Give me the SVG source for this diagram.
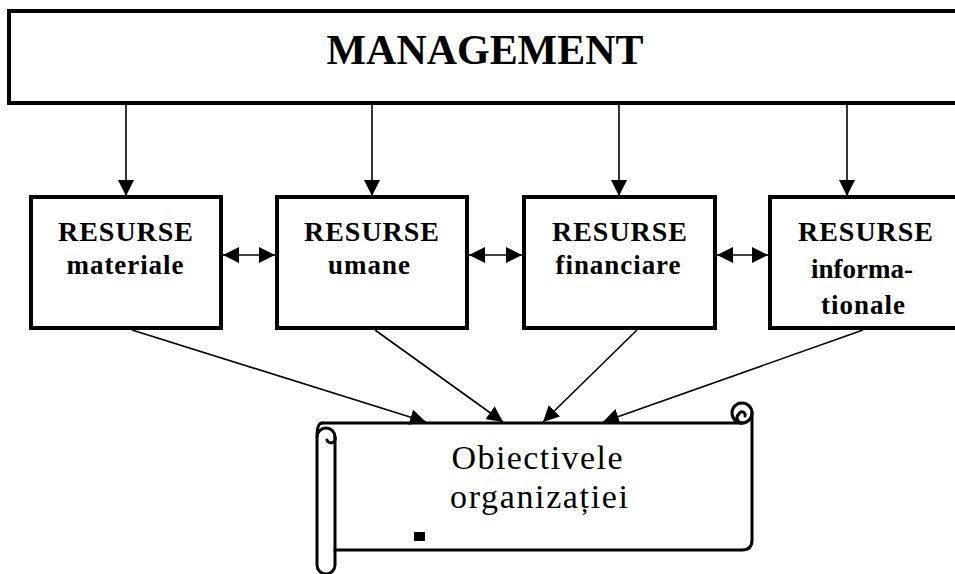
<svg xmlns="http://www.w3.org/2000/svg" width="955" height="574" viewBox="0 0 955 574">
<style>
.box{fill:#fff;stroke:#000;stroke-width:4}
.ln{stroke:#000;stroke-width:1.6;fill:none}
.t1{font-family:"Liberation Serif",serif;font-weight:bold;font-size:28px;text-anchor:middle;letter-spacing:1px}
.t2{font-family:"Liberation Serif",serif;font-weight:bold;font-size:27px;text-anchor:middle}
.sc{fill:none;stroke:#000;stroke-width:3;stroke-linecap:round;stroke-linejoin:round}
.t3{font-family:"Liberation Serif",serif;font-size:34px;text-anchor:middle}
</style>
<defs>
<marker id="ah" markerUnits="userSpaceOnUse" markerWidth="18" markerHeight="16" refX="16" refY="8" orient="auto-start-reverse">
<path d="M0,0 L16,8 L0,16 Z" fill="#000"/>
</marker>
</defs>
<g id="management">
<rect class="box" x="9" y="11" width="960" height="92"/>
<text x="485" y="64" font-family="Liberation Serif,serif" font-weight="bold" font-size="43" text-anchor="middle" textLength="317" lengthAdjust="spacingAndGlyphs">MANAGEMENT</text>
</g>
<g id="materiale">
<rect class="box" x="31" y="197" width="190" height="131"/>
<text class="t1" x="126" y="241" textLength="136">RESURSE</text>
<text class="t2" x="125" y="274" textLength="117">materiale</text>
</g>
<g id="umane">
<rect class="box" x="277" y="197" width="190" height="131"/>
<text class="t1" x="372" y="241" textLength="136">RESURSE</text>
<text class="t2" x="369" y="274" textLength="82">umane</text>
</g>
<g id="financiare">
<rect class="box" x="524" y="197" width="191" height="131"/>
<text class="t1" x="620" y="241" textLength="136">RESURSE</text>
<text class="t2" x="618" y="274" textLength="125">financiare</text>
</g>
<g id="informationale">
<rect class="box" x="770" y="197" width="200" height="131"/>
<text class="t1" x="866" y="241" textLength="136">RESURSE</text>
<text class="t2" x="862" y="278" textLength="102">informa-</text>
<text class="t2" x="863" y="314" textLength="84">tionale</text>
</g>
<g id="obiective">
<path class="sc" d="M322,423 L742,423"/>
<circle class="sc" cx="742" cy="413" r="10"/>
<path class="sc" d="M742,423 A5,5 0 0 1 739,414 A3,3 0 0 1 745,416"/>
<path class="sc" d="M752,413 L752,540 Q752,550 742,550 L335,550"/>
<path class="sc" d="M322,423 Q317,423 317,437 L317,565 A9,9 0 0 0 335,565 L335,437"/>
<path class="sc" d="M317,437 A9,9 0 0 1 335,437 A4,4 0 0 1 327,440"/>
<text class="t3" x="537" y="469" textLength="171" lengthAdjust="spacing">Obiectivele</text>
<text class="t3" x="539" y="508" textLength="178" lengthAdjust="spacing">organizației</text>
<rect x="414" y="532" width="11" height="9" fill="#000"/>
</g>
<g id="connectors">
<line class="ln" x1="126" y1="105" x2="126" y2="196" marker-end="url(#ah)"/>
<line class="ln" x1="372" y1="105" x2="372" y2="196" marker-end="url(#ah)"/>
<line class="ln" x1="619" y1="105" x2="619" y2="196" marker-end="url(#ah)"/>
<line class="ln" x1="847" y1="105" x2="847" y2="196" marker-end="url(#ah)"/>
<line class="ln" x1="223" y1="255" x2="275" y2="255" marker-start="url(#ah)" marker-end="url(#ah)"/>
<line class="ln" x1="469" y1="255" x2="522" y2="255" marker-start="url(#ah)" marker-end="url(#ah)"/>
<line class="ln" x1="717" y1="255" x2="768" y2="255" marker-start="url(#ah)" marker-end="url(#ah)"/>
<line class="ln" x1="132" y1="330" x2="426" y2="422" marker-end="url(#ah)"/>
<line class="ln" x1="375" y1="330" x2="503" y2="422" marker-end="url(#ah)"/>
<line class="ln" x1="637" y1="330" x2="543" y2="422" marker-end="url(#ah)"/>
<line class="ln" x1="863" y1="330" x2="603" y2="422" marker-end="url(#ah)"/>
</g>
</svg>
